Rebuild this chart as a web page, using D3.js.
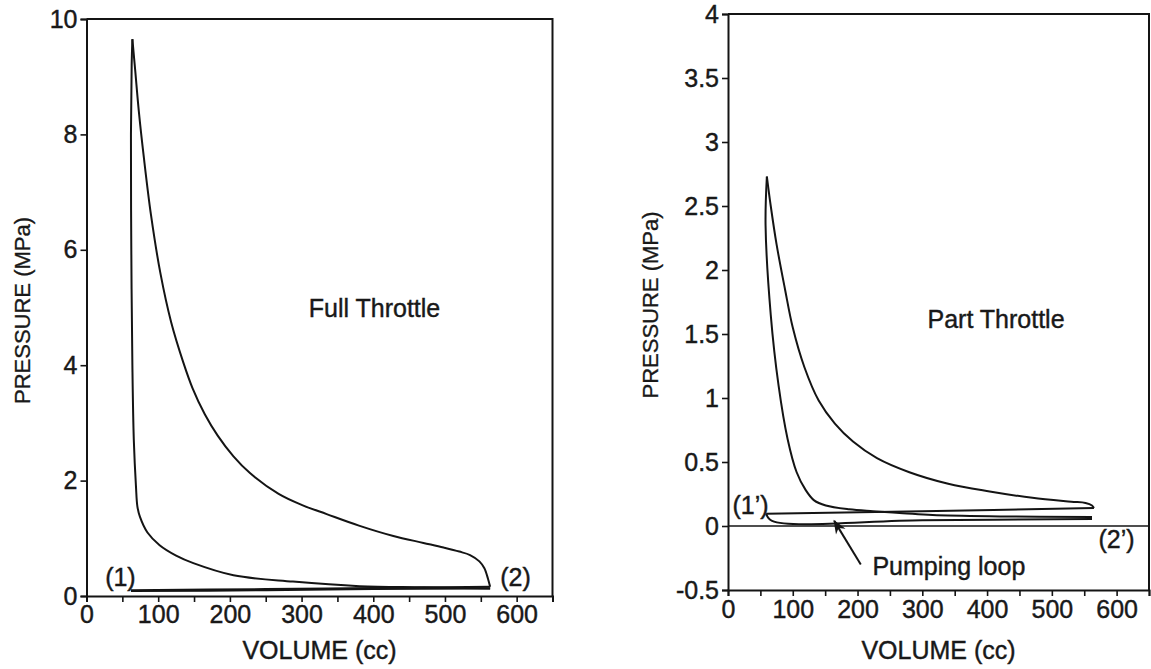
<!DOCTYPE html>
<html>
<head>
<meta charset="utf-8">
<script src="https://cdn.jsdelivr.net/npm/d3@7"></script>
<style>
  body { margin: 0; background: #fff; }
  svg { display: block; }
  text { font-family: "Liberation Sans", Arial, sans-serif; fill: #1a1a1a; }
</style>
</head>
<body>
<svg id="chart" width="1151" height="669"></svg>
<script>
// DATA (volume in cc, pressure in MPa)

// full throttle cycle
const fullCompV = [563, 470, 381, 288, 205, 149, 125, 102, 85, 74.6, 71, 69, 66, 64, 62.5, 62, 63, 64];
const fullCompP = [0.13, 0.15, 0.17, 0.25, 0.36, 0.57, 0.7, 0.88, 1.1, 1.37, 1.55, 1.9, 2.7, 4, 6, 8, 9.2, 9.65];
const fullExpV = [64, 68, 73, 80, 90, 103, 118, 135, 148, 165, 183, 205, 228, 268, 300, 335, 380, 428, 470, 498, 520, 535, 548, 555, 560, 563];
const fullExpP = [9.65, 9.1, 8.4, 7.6, 6.6, 5.6, 4.75, 4.05, 3.6, 3.15, 2.78, 2.42, 2.13, 1.77, 1.58, 1.42, 1.22, 1.04, 0.92, 0.84, 0.77, 0.71, 0.6, 0.48, 0.3, 0.16];
const fullExhV = [563, 400, 250, 62];
const fullExhP = [0.16, 0.14, 0.12, 0.1];
const fullIntV = [62, 250, 400, 563];
const fullIntP = [0.085, 0.1, 0.12, 0.13];

// part throttle cycle
const partCompV = [562, 420, 316, 270, 224, 187, 151, 133, 120, 106, 92, 78, 66, 58, 60];
const partCompP = [0.07, 0.075, 0.085, 0.1, 0.115, 0.13, 0.16, 0.2, 0.28, 0.42, 0.68, 1.1, 1.65, 2.35, 2.73];
const partExpV = [60, 66, 75, 88, 100, 118, 140, 165, 193, 230, 280, 340, 404, 470, 530, 552, 562, 565];
const partExpP = [2.73, 2.5, 2.2, 1.85, 1.55, 1.24, 0.98, 0.8, 0.66, 0.53, 0.42, 0.33, 0.27, 0.22, 0.19, 0.18, 0.16, 0.14];
const partExhV = [565, 300, 59];
const partExhP = [0.14, 0.115, 0.095];
const partIntV = [59, 68, 300, 562];
const partIntP = [0.095, 0.04, 0.045, 0.055];

// ticks
const volTicks = [0, 100, 200, 300, 400, 500, 600];
const volMinor = [0, 50, 100, 150, 200, 250, 300, 350, 400, 450, 500, 550, 600, 650];
const fullPTicks = [0, 2, 4, 6, 8, 10];
const partPTicks = [-0.5, 0, 0.5, 1, 1.5, 2, 2.5, 3, 3.5, 4];

// annotations [text, volume, pressure]
const fullNotes = [["Full Throttle", 310, 4.84], ["(1)", 26, 0.17], ["(2)", 577, 0.17]];
const partNotes = [["Part Throttle", 308, 1.55], ["(1\u2019)", 7, 0.09], ["(2\u2019)", 572, -0.17], ["Pumping loop", 223, -0.38]];
const pumpArrowV = [205, 164];
const pumpArrowP = [-0.3, 0.04];

// CANVAS SETUP
const svg = d3.select("#chart");
const ink = "#141414";

svg.append("defs").append("marker")
  .attr("id", "arrow")
  .attr("viewBox", "0 0 10 10")
  .attr("refX", 9).attr("refY", 5)
  .attr("markerUnits", "userSpaceOnUse")
  .attr("markerWidth", 18).attr("markerHeight", 14)
  .attr("orient", "auto")
  .append("path")
  .attr("d", "M0,1 L10,5 L0,9 L3,5 Z")
  .attr("fill", ink);

const zip = (vs, ps) => vs.map((v, i) => [v, ps[i]]);

function panel(opt) {
  const x = d3.scaleLinear().domain([0, 650]).range(opt.xr);
  const y = d3.scaleLinear().domain(opt.yd).range(opt.yr);
  const g = svg.append("g");

  // frame (top + right)
  g.append("path")
    .attr("d", `M${x(0)},${y(opt.yd[1])} H${x(650)} V${y(opt.yd[0])}`)
    .attr("fill", "none").attr("stroke", ink).attr("stroke-width", 2);

  // axes
  const gx = g.append("g").attr("transform", `translate(0,${y(opt.yd[0])})`);
  gx.call(d3.axisBottom(x).tickValues(volMinor).tickSize(6).tickFormat(""));
  const gxl = g.append("g").attr("transform", `translate(0,${y(opt.yd[0])})`);
  gxl.call(d3.axisBottom(x).tickValues(volTicks).tickSize(0).tickPadding(opt.xpad));
  gxl.select(".domain").remove();

  const gy = g.append("g").attr("transform", `translate(${x(0)},0)`);
  gy.call(d3.axisLeft(y).tickValues(opt.yticks).tickSize(6).tickPadding(3).tickFormat((d) => String(d)));

  g.selectAll(".domain").attr("stroke", ink).attr("stroke-width", 2);
  g.selectAll(".tick line").attr("stroke", ink).attr("stroke-width", 1.6);
  g.selectAll(".tick text").attr("font-size", 25).attr("fill", ink)
    .attr("stroke", ink).attr("stroke-width", 0.4)
    .style("font-family", '"Liberation Sans", Arial, sans-serif');

  // axis titles
  g.append("text")
    .attr("x", (opt.xr[0] + opt.xr[1]) / 2)
    .attr("y", 659)
    .attr("text-anchor", "middle")
    .attr("font-size", 25)
    .attr("stroke", ink).attr("stroke-width", 0.4)
    .text("VOLUME (cc)");
  g.append("text")
    .attr("transform", `translate(${opt.titleX},${(opt.yr[0] + opt.yr[1]) / 2 + 3}) rotate(-90)`)
    .attr("text-anchor", "middle")
    .attr("font-size", 22)
    .attr("stroke", ink).attr("stroke-width", 0.3)
    .text("PRESSURE (MPa)");

  // cycle curves
  const line = d3.line()
    .x((d) => x(d[0]))
    .y((d) => y(d[1]))
    .curve(d3.curveCatmullRom.alpha(0.5));

  g.selectAll("path.cycle")
    .data(opt.series)
    .join("path")
    .attr("class", "cycle")
    .attr("d", line)
    .attr("fill", "none")
    .attr("stroke", ink)
    .attr("stroke-width", 2)
    .attr("stroke-linejoin", "round");

  // notes
  g.selectAll("text.note")
    .data(opt.notes)
    .join("text")
    .attr("class", "note")
    .attr("x", (d) => x(d[1]))
    .attr("y", (d) => y(d[2]))
    .attr("font-size", 25)
    .attr("stroke", ink).attr("stroke-width", 0.4)
    .text((d) => d[0]);

  return { g, x, y };
}

// FULL THROTTLE
panel({
  xr: [86.5, 552.5],
  yd: [0, 10],
  yr: [596, 19],
  yticks: fullPTicks,
  xpad: 9,
  titleX: 30,
  series: [
    zip(fullCompV, fullCompP),
    zip(fullExpV, fullExpP),
    zip(fullExhV, fullExhP),
    zip(fullIntV, fullIntP),
  ],
  notes: fullNotes,
});

// PART THROTTLE
const part = panel({
  xr: [728, 1149],
  yd: [-0.5, 4],
  yr: [590, 14],
  yticks: partPTicks,
  xpad: 10,
  titleX: 658,
  series: [
    zip(partCompV, partCompP),
    zip(partExpV, partExpP),
    zip(partExhV, partExhP),
    zip(partIntV, partIntP),
  ],
  notes: partNotes,
});

// zero line
part.g.append("line")
  .attr("x1", part.x(0)).attr("x2", part.x(650))
  .attr("y1", part.y(0)).attr("y2", part.y(0))
  .attr("stroke", ink).attr("stroke-width", 1.6);

// pumping loop arrow
part.g.append("line")
  .attr("x1", part.x(pumpArrowV[0])).attr("y1", part.y(pumpArrowP[0]))
  .attr("x2", part.x(pumpArrowV[1])).attr("y2", part.y(pumpArrowP[1]))
  .attr("stroke", ink).attr("stroke-width", 2)
  .attr("marker-end", "url(#arrow)");
</script>
</body>
</html>
